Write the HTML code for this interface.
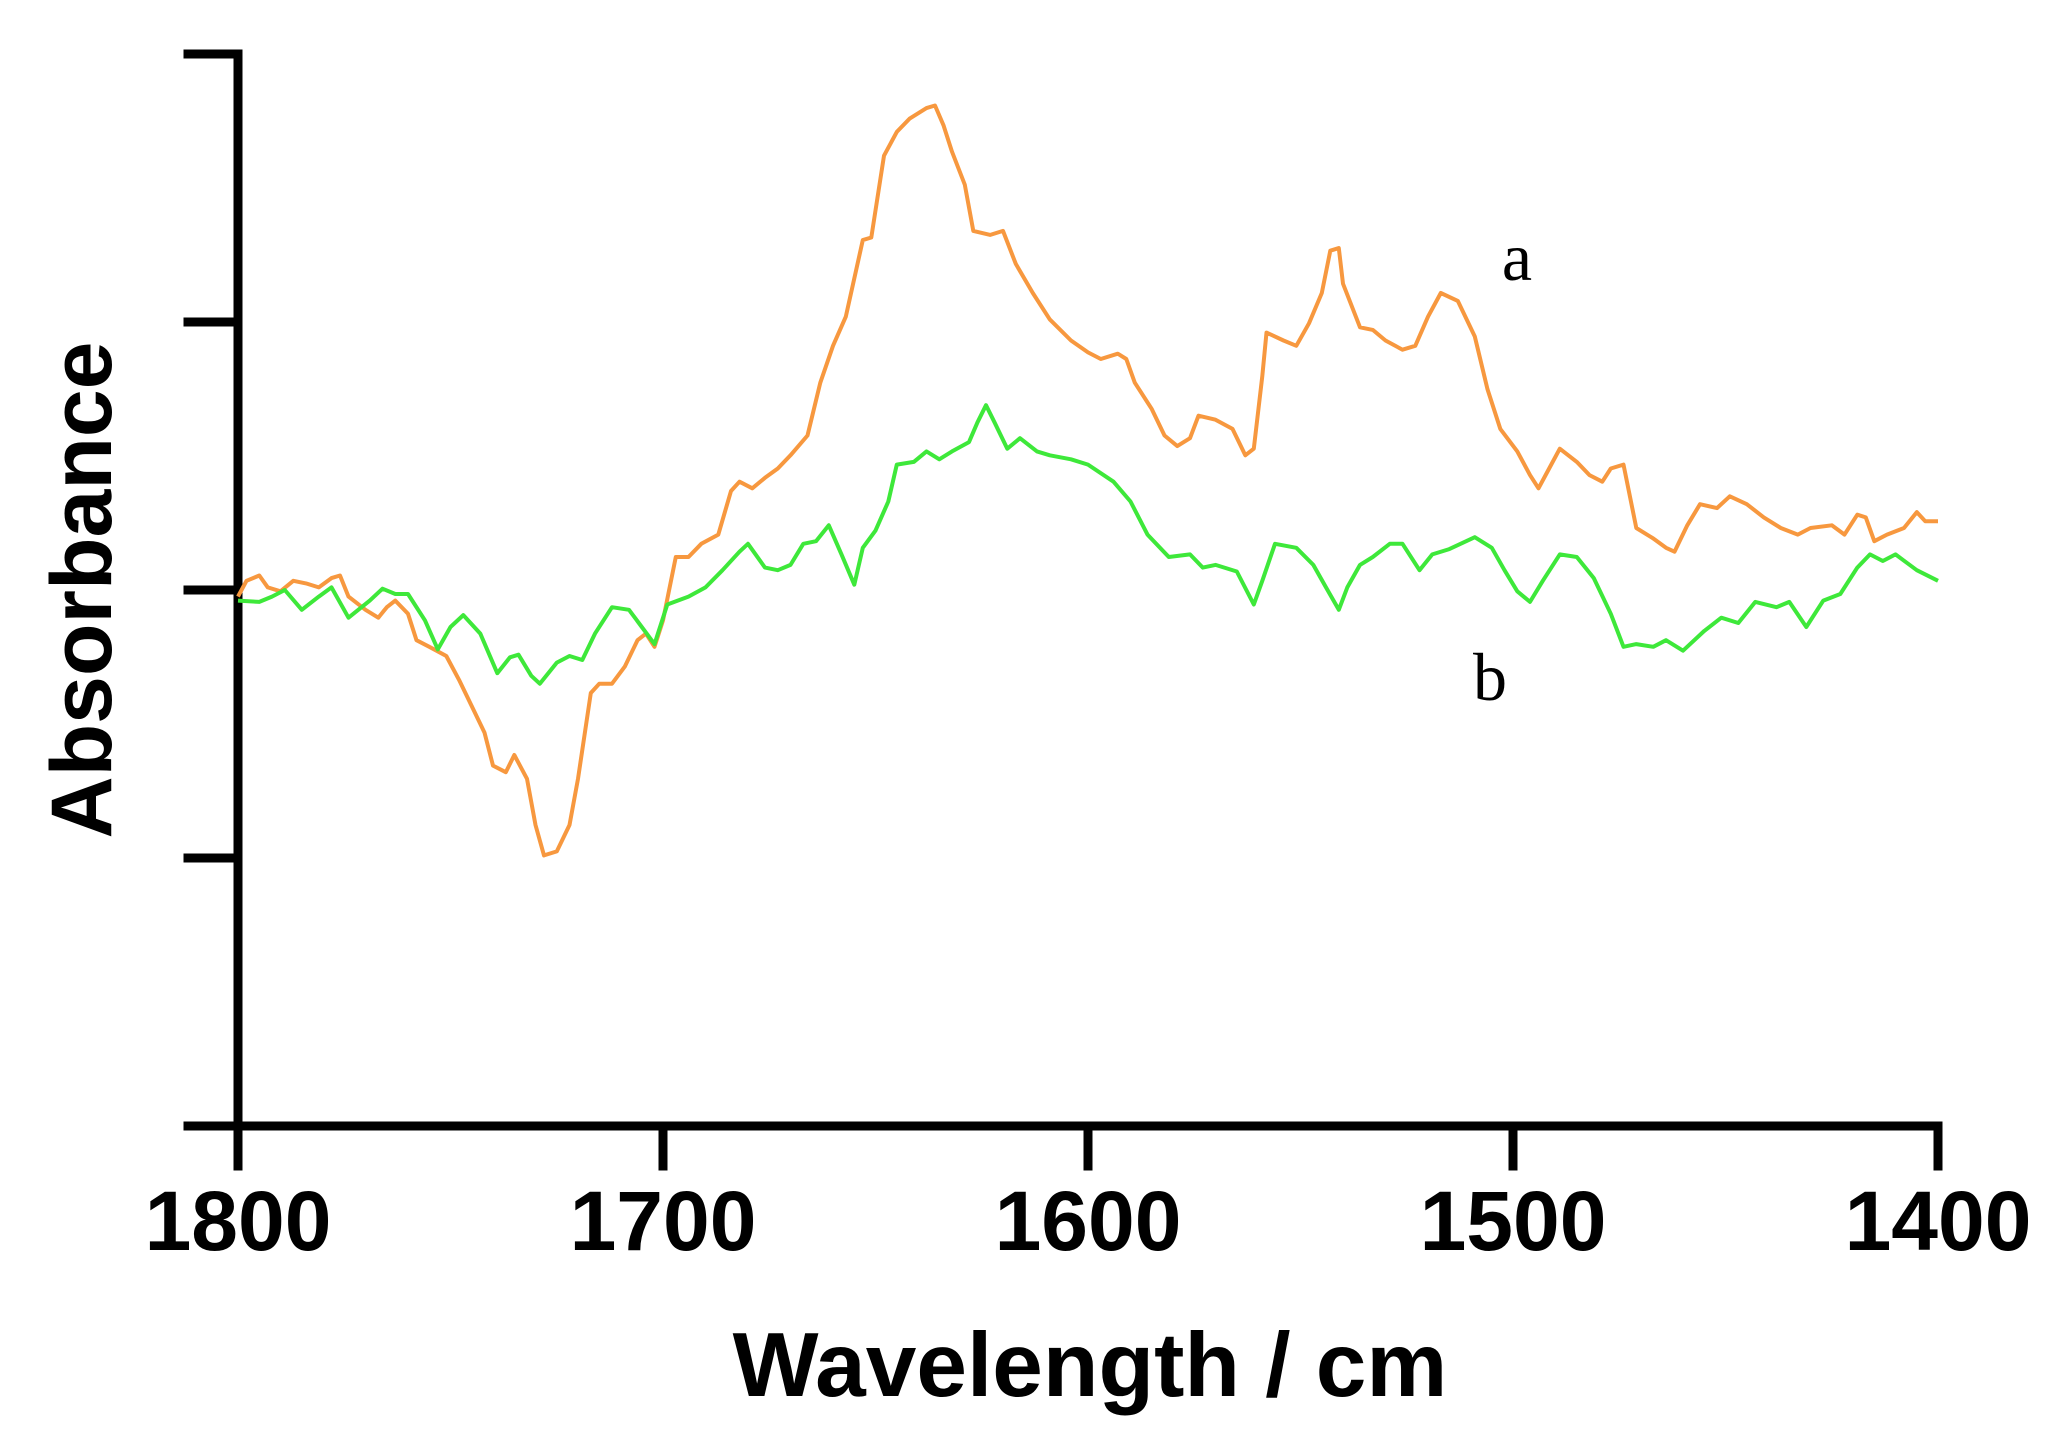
<!DOCTYPE html>
<html><head><meta charset="utf-8">
<style>
html,body{margin:0;padding:0;background:#fff;}
svg{display:block;}
</style></head>
<body>
<svg id="chart" width="2070" height="1450" viewBox="0 0 2070 1450" xmlns="http://www.w3.org/2000/svg">
<g id="axes"></g>
<g id="series"></g>
<text x="82" y="590" transform="rotate(-90 82 590)" text-anchor="middle" dominant-baseline="central" font-family="Liberation Sans, sans-serif" font-weight="bold" font-size="86">Absorbance</text>
<text x="1090" y="1396" text-anchor="middle" font-family="Liberation Sans, sans-serif" font-weight="bold" font-size="91">Wavelength / cm</text>
<text x="1517" y="280" text-anchor="middle" font-family="Liberation Serif, serif" font-size="68">a</text>
<text x="1490" y="700" text-anchor="middle" font-family="Liberation Serif, serif" font-size="68">b</text>
</svg>
<script>
const xTicks = [1800, 1700, 1600, 1500, 1400];
const yTicks = [406, 203, 0, -203, -406];
const wnA = [1800,1798,1795,1793,1790,1787,1784,1781,1778,1776,1774,1770,1767,1765,1763,1760,1758,1755,1751,1748,1745,1742,1740,1737,1735,1732,1730,1728,1725,1722,1720,1717,1715,1712,1709,1706,1704,1702,1700,1697,1694,1691,1687,1684,1682,1679,1676,1673,1670,1666,1663,1660,1657,1653,1651,1648,1645,1642,1638,1636,1634,1632,1629,1627,1623,1620,1617,1613,1609,1604,1600,1597,1593,1591,1589,1585,1582,1579,1576,1574,1570,1566,1563,1561,1559,1558,1554,1551,1548,1545,1543,1541,1540,1536,1533,1530,1526,1523,1520,1517,1513,1509,1506,1503,1499,1496,1494,1492,1489,1485,1482,1479,1477,1474,1471,1467,1464,1462,1459,1456,1452,1449,1445,1441,1437,1433,1430,1425,1422,1419,1417,1415,1412,1408,1405,1403,1400];
const absA = [-5,7,11,2,-1,7,5,2,9,11,-5,-15,-21,-13,-8,-18,-38,-43,-50,-68,-88,-108,-133,-138,-125,-143,-178,-201,-198,-178,-143,-78,-71,-71,-58,-38,-33,-43,-23,25,25,35,42,75,82,77,85,92,102,117,157,185,207,265,267,329,347,357,365,367,352,332,307,272,269,272,247,225,205,189,180,175,179,175,157,137,117,109,115,132,129,122,102,107,162,195,189,185,202,225,257,259,232,199,197,189,182,185,207,225,219,192,152,122,105,87,77,89,107,97,87,82,92,95,47,39,32,29,49,65,62,71,65,55,47,42,47,49,42,57,55,37,42,47,59,52,52];
const wnB = [1800,1795,1792,1789,1785,1781,1778,1774,1769,1766,1763,1760,1756,1753,1750,1747,1743,1739,1736,1734,1731,1729,1725,1722,1719,1716,1712,1708,1705,1702,1699,1694,1690,1686,1682,1680,1676,1673,1670,1667,1664,1661,1658,1655,1653,1650,1647,1645,1641,1638,1635,1632,1628,1626,1624,1622,1619,1616,1612,1609,1604,1600,1594,1590,1586,1581,1576,1573,1570,1565,1561,1559,1556,1551,1547,1544,1541,1539,1536,1533,1529,1526,1522,1519,1515,1509,1505,1502,1499,1496,1493,1489,1485,1481,1477,1474,1471,1467,1464,1460,1455,1451,1447,1443,1438,1435,1431,1427,1423,1419,1416,1413,1410,1405,1400];
const absB = [-8,-9,-5,0,-15,-5,2,-21,-8,1,-3,-3,-23,-45,-28,-19,-33,-63,-51,-49,-65,-71,-55,-50,-53,-33,-13,-15,-28,-41,-11,-5,2,15,29,35,17,15,19,35,37,49,27,4,32,45,67,95,97,105,99,105,112,127,140,127,107,115,105,102,99,95,82,67,42,25,27,17,19,14,-11,7,35,32,19,2,-15,2,19,25,35,35,15,27,31,40,32,15,-1,-9,7,27,25,9,-18,-43,-41,-43,-38,-46,-31,-21,-25,-9,-13,-9,-28,-8,-3,17,27,22,27,15,7];

const NS = 'http://www.w3.org/2000/svg';
const X0 = 238, X1 = 1938, Y0 = 590, YPER = 268/203;
function xs(w){ return X0 + (1800 - w) * (X1 - X0) / 400; }
function ys(v){ return Y0 - v * YPER; }

const axes = document.getElementById('axes');
function line(x1,y1,x2,y2){
  const l = document.createElementNS(NS,'line');
  l.setAttribute('x1',x1); l.setAttribute('y1',y1); l.setAttribute('x2',x2); l.setAttribute('y2',y2);
  l.setAttribute('stroke','#000'); l.setAttribute('stroke-width','9'); l.setAttribute('stroke-linecap','square');
  axes.appendChild(l); return l;
}
const yTop = ys(yTicks[0]), yBot = ys(yTicks[yTicks.length-1]);
const ya = line(X0, yTop, X0, yBot);


const xa = line(X0 - 50, yBot, X1, yBot);


yTicks.forEach(v => {
  const t = line(X0 - 50, ys(v), X0, ys(v));
  
  
});
xTicks.forEach(w => {
  const t = line(xs(w), yBot, xs(w), yBot + 40);
  
  
  const tx = document.createElementNS(NS,'text');
  tx.setAttribute('x', xs(w)); tx.setAttribute('y', yBot + 124);
  tx.setAttribute('text-anchor','middle');
  tx.setAttribute('font-family','Liberation Sans, sans-serif');
  tx.setAttribute('font-weight','bold'); tx.setAttribute('font-size','84');
  tx.textContent = w;
  
  
  axes.appendChild(tx);
});

const series = document.getElementById('series');
function drawSeries(wn, vals, color, name){
  const p = document.createElementNS(NS,'path');
  let d = '';
  wn.forEach((w,i) => { d += (i ? 'L' : 'M') + xs(w).toFixed(1) + ',' + ys(vals[i]).toFixed(1); });
  p.setAttribute('d', d);
  p.setAttribute('fill','none'); p.setAttribute('stroke', color);
  p.setAttribute('stroke-width','4'); p.setAttribute('stroke-linejoin','round');
  
  
  series.appendChild(p);
}
drawSeries(wnA, absA, '#f7983f', 'series-a-line');
drawSeries(wnB, absB, '#3ee83a', 'series-b-line');
</script>
</body></html>
